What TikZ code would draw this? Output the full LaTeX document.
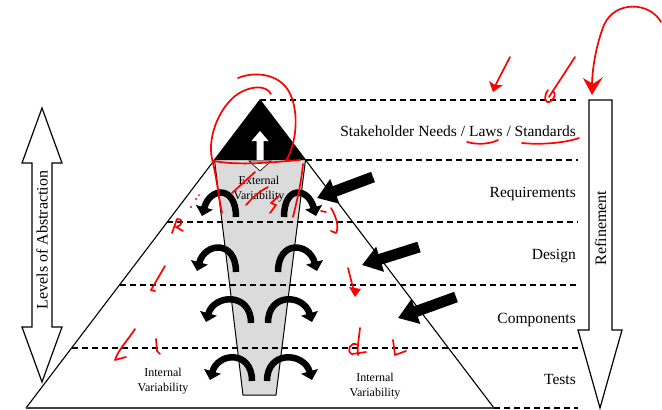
\documentclass[tikz,border=0pt]{standalone}
\usepackage{fontspec}
\setmainfont{Liberation Serif}
\usetikzlibrary{arrows.meta}

\tikzset{
  levelline/.style   = {dash pattern=on 6pt off 4pt, line width=1.1pt},
  levellabel/.style  = {anchor=east, inner sep=0pt, font=\fontsize{15.5}{18}\selectfont},
  varlabel/.style    = {align=center, inner sep=0pt, font=\fontsize{12}{14.5}\selectfont},
  sidelabel/.style   = {inner sep=0pt, rotate=90, font=\fontsize{16}{18}\selectfont},
  blockarrow/.style  = {line width=11pt, -{Triangle[length=19pt,width=25pt]}},
  turnarrow/.style   = {line width=6.5pt, -{Triangle[length=9pt,width=17pt]}},
  outlinearrow/.style= {draw, line width=1.2pt, fill=white, line join=miter},
  hand/.style        = {red, line width=1.7pt, line cap=round, line join=round},
}

\begin{document}
\begin{tikzpicture}[x=1pt,y=-1pt]
\useasboundingbox (0,0) rectangle (662,410);

% inner funnel of external variability
\fill[gray!28] (214.5,160) -- (305.5,160) -- (276,395) -- (243,395) -- cycle;
\draw[line width=1pt] (214.5,160) -- (243,395) -- (276,395) -- (305.5,160);

% level separators
\draw[levelline] (260,100) -- (578,100);
\draw[levelline] (305.5,160) -- (578,160);
\draw[levelline] (167,222) -- (578,222);
\draw[levelline] (119.6,285) -- (578,285);
\draw[levelline] (71.8,348) -- (578,348);
\draw[levelline] (494,408) -- (578,408);

% apex of the pyramid with the upward arrow
\fill (260,100) -- (305.5,160) -- (214.5,160) -- cycle;
\fill[white] (256.5,160) -- (256.5,141) -- (251.5,141) -- (260,131) -- (268.5,141)
  -- (263.5,141) -- (263.5,160) -- cycle;
\filldraw[fill=white, line width=0.6pt] (249,161) -- (271,161) -- (260,171) -- cycle;

% pyramid outline
\draw[line width=1.1pt] (26,408) -- (260,100) -- (494,408);
\draw[line width=1.6pt, black!75] (26,408) -- (494,408);

% internal variability: curved arrows at every level
\foreach \yt/\yb/\a/\b/\c/\d in {191/217/202/236/284/316, 246/272/197/236/278/317,
    298/323/206/251/268/312, 356/381/210/252/267/312}{
  \draw[turnarrow] (\b,\yb) .. controls (\b,\yt-6) and (\a+8,\yt-4) .. (\a,\yb-1);
  \draw[turnarrow] (\c,\yb) .. controls (\c,\yt-6) and (\d-8,\yt-4) .. (\d,\yb-1);
}

% external influences entering the levels
\coordinate (reqTail) at (373,177);  \coordinate (reqTip) at (317,198);
\coordinate (desTail) at (419,247);  \coordinate (desTip) at (362,265);
\coordinate (comTail) at (456,297);  \coordinate (comTip) at (398,318);
\draw[blockarrow] (reqTail) -- (reqTip);
\draw[blockarrow] (desTail) -- (desTip);
\draw[blockarrow] (comTail) -- (comTip);

% level names
\node[levellabel] (stake) at (576,131) {Stakeholder Needs / Laws / Standards};
\node[levellabel] (req)   at (576,194) {Requirements};
\node[levellabel] (des)   at (576,256) {Design};
\node[levellabel] (comp)  at (576,320) {Components};
\node[levellabel] (tests) at (576,379) {Tests};

\node[varlabel] (extvar) at (259,189) {External\\Variability};
\node[varlabel] (intvarL) at (163,381) {Internal\\Variability};
\node[varlabel] (intvarR) at (375,386) {Internal\\Variability};

% side arrows
\path[outlinearrow] (42,108) -- (62,163) -- (52,163) -- (52,327) -- (62,327) -- (42,382)
  -- (22,327) -- (32,327) -- (32,163) -- (22,163) -- cycle;
\node[sidelabel] (abstraction) at (42,240) {Levels of Abstraction};

\path[outlinearrow] (589,100) -- (612,100) -- (612,330) -- (622,330) -- (600,408)
  -- (578,330) -- (589,330) -- cycle;
\node[sidelabel] (refinement) at (600.5,228) {Refinement};

% red pen annotations
\draw[hand] (238,78) .. controls (255,71) and (278,74) .. (288,90)
  .. controls (299,108) and (298,140) .. (286,161);
\draw[hand] (271,94) .. controls (266,84) and (248,86) .. (235,96)
  .. controls (218,110) and (206,140) .. (213,163)
  .. controls (217,180) and (219,200) .. (222,213);
\draw[hand] (214,161) .. controls (240,166) and (275,162) .. (300,160);
\draw[hand] (303,164) .. controls (301,185) and (297,200) .. (293,217);
\draw[hand] (232,193) -- (255,172);
\draw[hand] (246,205) .. controls (255,195) and (262,190) .. (268,187);
\draw[hand] (279,196) -- (271,203) -- (276,205) -- (270,213);

\draw[hand] (661,22) .. controls (650,2) and (615,0) .. (604,25)
  .. controls (596,45) and (592,70) .. (592,86);
\fill[red] (583,78) -- (592,95) -- (603,77) -- (593,84) -- cycle;

\draw[hand] (510,57) -- (494,88);
\fill[red] (489,81) -- (493,92) -- (503,85) -- (495,85) -- cycle;
\draw[hand] (575,57) -- (549,97);
\draw[hand] (548,90) .. controls (543,97) and (545,105) .. (551,101) .. controls (555,98) and (556,93) .. (553,91);

\draw[hand] (467,142) .. controls (478,145) and (490,144) .. (498,140);
\draw[hand] (522,143) .. controls (540,145) and (565,143) .. (579,138);

\draw[hand] (172,233) -- (177,219) .. controls (183,218) and (184,225) .. (176,227) -- (183,231);
\fill[red] (191,207) circle (1.2pt) (196,199) circle (1.2pt) (199,195) circle (1pt);
\draw[hand] (165,266) -- (151,290) -- (155,291);
\draw[hand] (135,329) .. controls (128,340) and (118,350) .. (115,360) -- (126,357);
\draw[hand] (156,339) -- (157,351) -- (160,354);

\draw[hand] (321,211) -- (326,212);
\draw[hand] (331,208) .. controls (337,218) and (339,228) .. (336,233) -- (331,231);
\draw[hand] (348,268) -- (354,292);
\fill[red] (349,287) -- (361,289) -- (355,297) -- cycle;
\draw[hand] (360,328) .. controls (359,338) and (357,348) .. (358,355);
\draw[hand] (358,345) .. controls (350,340) and (346,352) .. (352,354) -- (366,352);
\draw[hand] (393,340) -- (395,355) -- (406,351);
\end{tikzpicture}
\end{document}
